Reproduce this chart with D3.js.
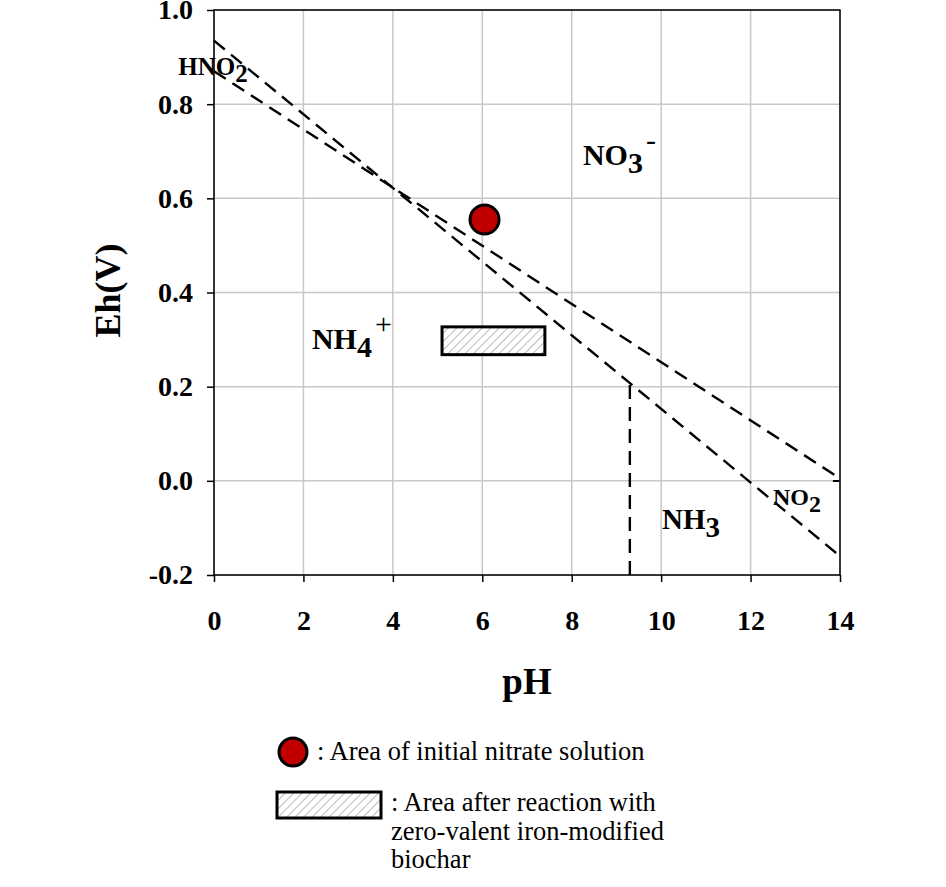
<!DOCTYPE html>
<html>
<head>
<meta charset="utf-8">
<script src="https://cdn.jsdelivr.net/npm/d3@7"></script>
<style>
  html, body { margin: 0; padding: 0; background: #fff; overflow: hidden; }
  svg { display: block; overflow: visible; }
</style>
</head>
<body>
<svg width="946" height="887" viewBox="0 0 946 887"></svg>
<script>
// ---- data ----
const phTicks = [0, 2, 4, 6, 8, 10, 12, 14];
const ehTicks = [-0.2, 0.0, 0.2, 0.4, 0.6, 0.8, 1.0];

// dashed stability boundaries [pH, Eh]
const no3Nh4Line = [[0, 0.935], [14, -0.16]];
const no3No2Line = [[0, 0.87], [14, 0.005]];
const nh4Nh3Line = [[9.3, -0.2], [9.3, 0.208]];

// initial nitrate solution
const initialPoint = [6.05, 0.555];
// area after reaction (pH range, Eh range)
const reactedPh = [5.1, 7.4];
const reactedEh = [0.268, 0.327];

// species labels: main text, subscript, superscript, anchor [pH, Eh], size
const speciesLabels = [
  {main: 'NO', sub: '3', sup: '-', at: [8.25, 0.671], size: 30},
  {main: 'NH', sub: '4', sup: '+', at: [2.19, 0.28], size: 30},
  {main: 'NH', sub: '3', sup: '', at: [10.02, -0.102], size: 29},
  {main: 'NO', sub: '2', sup: '', at: [12.5, -0.051], size: 24},
  {main: 'HNO', sub: '2', sup: '', at: [-0.8, 0.862], size: 25}
];

const legendItems = [
  ': Area of initial nitrate solution',
  ': Area after reaction with',
  'zero-valent iron-modified',
  'biochar'
];

const FONT = '"Liberation Serif", "Times New Roman", serif';

const svg = d3.select('svg');
const margin = {top: 10, left: 214};
const innerWidth = 626;
const innerHeight = 565;

const xScale = d3.scaleLinear().domain([0, 14]).range([0, innerWidth]);
const yScale = d3.scaleLinear().domain([-0.2, 1.0]).range([innerHeight, 0]);

const defs = svg.append('defs');
const pat = defs.append('pattern')
  .attr('id', 'hatch')
  .attr('patternUnits', 'userSpaceOnUse')
  .attr('width', 6).attr('height', 6)
  .attr('patternTransform', 'rotate(45)');
pat.append('rect').attr('width', 6).attr('height', 6).attr('fill', '#fff');
pat.append('line')
  .attr('x1', 0).attr('y1', 0).attr('x2', 0).attr('y2', 6)
  .attr('stroke', '#a8a8a8').attr('stroke-width', 1.6);

const g = svg.append('g')
  .attr('transform', `translate(${margin.left}, ${margin.top})`);

// grid
g.append('g').selectAll('line').data(phTicks).enter().append('line')
  .attr('x1', d => xScale(d)).attr('x2', d => xScale(d))
  .attr('y1', 0).attr('y2', innerHeight)
  .attr('stroke', '#c8c8c8').attr('stroke-width', 1.5);
g.append('g').selectAll('line').data(ehTicks).enter().append('line')
  .attr('y1', d => yScale(d)).attr('y2', d => yScale(d))
  .attr('x1', 0).attr('x2', innerWidth)
  .attr('stroke', '#c8c8c8').attr('stroke-width', 1.5);

// axes
const xAxis = d3.axisBottom(xScale)
  .tickValues(phTicks)
  .tickFormat(d3.format('d'))
  .tickSizeInner(7).tickSizeOuter(0)
  .tickPadding(28);
const yAxis = d3.axisLeft(yScale)
  .tickValues(ehTicks)
  .tickFormat(d => d3.format('.1f')(d).replace('−', '-'))
  .tickSizeInner(7).tickSizeOuter(0)
  .tickPadding(14);

const xAxisG = g.append('g').attr('transform', `translate(0, ${innerHeight})`).call(xAxis);
const yAxisG = g.append('g').call(yAxis);
[xAxisG, yAxisG].forEach(a => {
  a.attr('font-family', FONT).attr('font-size', 28);
  a.select('.domain').remove();
  a.selectAll('.tick line').attr('stroke', '#000').attr('stroke-width', 1.5);
  a.selectAll('.tick text')
    .attr('font-family', FONT).attr('font-size', 28)
    .attr('font-weight', 'bold').attr('fill', '#000');
});
xAxisG.selectAll('.tick text').attr('dy', '0.71em');

// frame
g.append('rect')
  .attr('width', innerWidth).attr('height', innerHeight)
  .attr('fill', 'none').attr('stroke', '#000').attr('stroke-width', 1.5);

// axis titles
svg.append('text')
  .attr('x', margin.left + xScale(7)).attr('y', 694)
  .attr('text-anchor', 'middle')
  .attr('font-family', FONT).attr('font-weight', 'bold').attr('font-size', 37)
  .text('pH');
svg.append('text')
  .attr('transform', `translate(120, ${margin.top + yScale(0.4) - 2}) rotate(-90)`)
  .attr('text-anchor', 'middle')
  .attr('font-family', FONT).attr('font-weight', 'bold').attr('font-size', 36)
  .text('Eh(V)');

// boundaries
const line = d3.line().x(d => xScale(d[0])).y(d => yScale(d[1]));
[no3Nh4Line, no3No2Line, nh4Nh3Line].forEach(pts => {
  g.append('path')
    .attr('d', line(pts))
    .attr('fill', 'none')
    .attr('stroke', '#000')
    .attr('stroke-width', 2.4)
    .attr('stroke-dasharray', '14,8');
});

// reacted area
g.append('rect')
  .attr('x', xScale(reactedPh[0]))
  .attr('y', yScale(reactedEh[1]))
  .attr('width', xScale(reactedPh[1]) - xScale(reactedPh[0]))
  .attr('height', yScale(reactedEh[0]) - yScale(reactedEh[1]))
  .attr('fill', 'url(#hatch)')
  .attr('stroke', '#000').attr('stroke-width', 3);

// initial point
g.append('circle')
  .attr('cx', xScale(initialPoint[0]))
  .attr('cy', yScale(initialPoint[1]))
  .attr('r', 14.5)
  .attr('fill', '#c00000')
  .attr('stroke', '#000').attr('stroke-width', 3);

// species labels
speciesLabels.forEach(l => {
  const t = g.append('text')
    .attr('x', xScale(l.at[0])).attr('y', yScale(l.at[1]))
    .attr('font-family', FONT).attr('font-weight', 'bold').attr('font-size', l.size);
  t.append('tspan').text(l.main);
  t.append('tspan').attr('dy', l.size * 0.28).text(l.sub);
  if (l.sup) {
    t.append('tspan').attr('dy', -l.size * 0.78).attr('dx', 3)
      .attr('font-weight', 'normal').text(l.sup);
  }
});
// superscript minus of NO2 sits on the right edge of the plot
g.append('text')
  .attr('x', xScale(13.82)).attr('y', yScale(0.0) + 6)
  .attr('font-family', FONT).attr('font-weight', 'bold').attr('font-size', 24)
  .text('-');

// legend
const legend = svg.append('g');
legend.append('circle')
  .attr('cx', 293).attr('cy', 752).attr('r', 14)
  .attr('fill', '#c00000').attr('stroke', '#000').attr('stroke-width', 3);
legend.append('rect')
  .attr('x', 277).attr('y', 792).attr('width', 104).attr('height', 26)
  .attr('fill', 'url(#hatch)').attr('stroke', '#000').attr('stroke-width', 3);
legend.append('text')
  .attr('x', 317).attr('y', 760)
  .attr('font-family', FONT).attr('font-size', 26.5)
  .text(legendItems[0]);
legend.selectAll('text.multi').data(legendItems.slice(1)).enter().append('text')
  .attr('class', 'multi')
  .attr('x', 391).attr('y', (d, i) => 811 + i * 28.5)
  .attr('font-family', FONT).attr('font-size', 26.5)
  .text(d => d);
</script>
</body>
</html>
